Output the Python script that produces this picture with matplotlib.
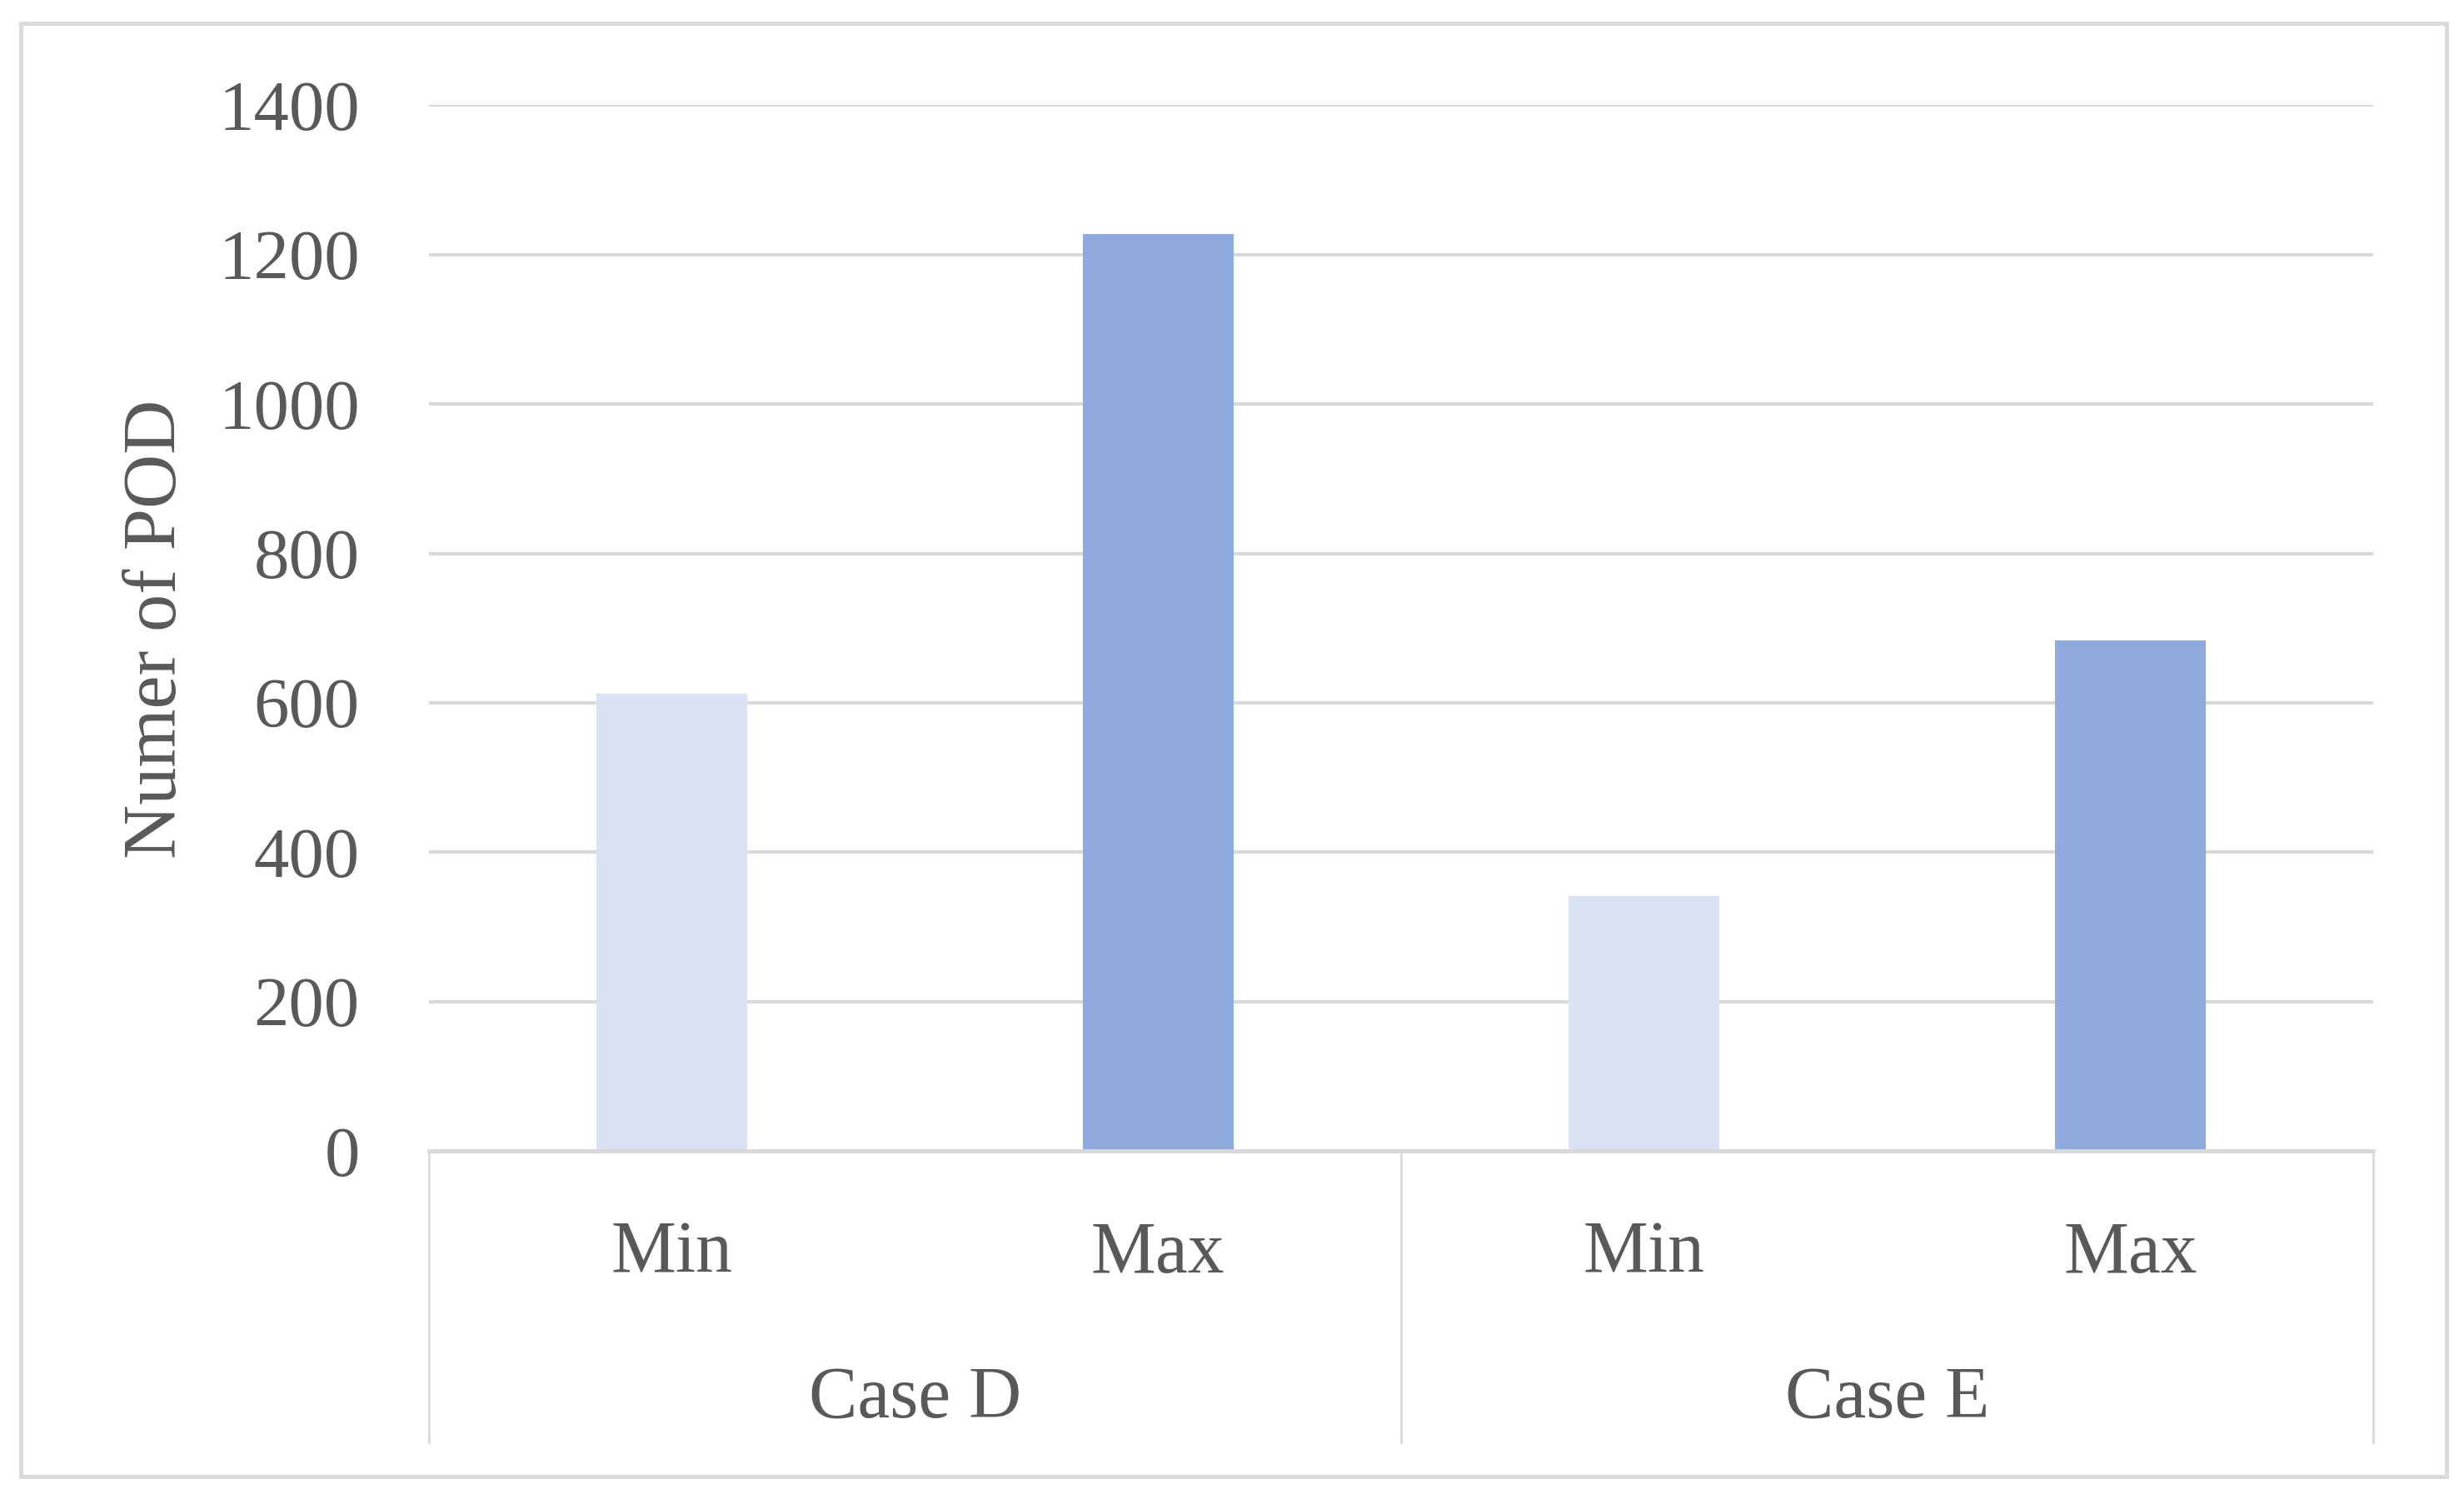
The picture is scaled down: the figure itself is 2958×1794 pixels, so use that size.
import matplotlib
matplotlib.use("Agg")
import matplotlib.pyplot as plt
from matplotlib.patches import Rectangle
from matplotlib.lines import Line2D
import matplotlib.transforms as mtransforms

# Data
groups = ["Case D", "Case E"]
sub_labels = ["Min", "Max", "Min", "Max"]
values = [612, 1228, 341, 683]
bar_colors = ["#DAE3F3", "#8FAADC", "#DAE3F3", "#8FAADC"]
y_ticks = [0, 200, 400, 600, 800, 1000, 1200, 1400]
y_label = "Numer of POD"

W, H = 2958, 1794
DPI = 100
fig = plt.figure(figsize=(W / DPI, H / DPI), dpi=DPI)
plt.rcParams['font.family'] = ['Liberation Serif', 'DejaVu Serif']
text_color = "#595959"
grid_color = "#D9D9D9"

left, right = 515 / W, 2849 / W
bottom, top = 1 - 1382 / H, 1 - 126.5 / H
ax = fig.add_axes([left, bottom, right - left, top - bottom])

x = list(range(len(values)))
ax.bar(x, values, width=0.31, color=bar_colors, zorder=3)
ax.set_xlim(-0.5, len(values) - 0.5)
ax.set_ylim(0, 1400)
ax.set_yticks(y_ticks)
ax.set_yticklabels([str(v) for v in y_ticks])
ax.tick_params(axis='y', length=0, pad=60, labelsize=61, labelcolor=text_color)
ax.set_xticks([])
ax.yaxis.grid(True, color=grid_color, linewidth=3.0, zorder=0)
ax.set_axisbelow(True)
for s in ["left", "right", "top"]:
    ax.spines[s].set_visible(False)
ax.spines["bottom"].set_color(grid_color)
ax.spines["bottom"].set_linewidth(3.5)
ax.spines["bottom"].set_zorder(4)

# y label
fig.text(189 / W, 1 - 755 / H, y_label, rotation=90, ha='center', va='center',
         fontsize=65, color=text_color)

# Category labels (two levels)
trans = mtransforms.blended_transform_factory(ax.transData, fig.transFigure)
for i, lab in enumerate(sub_labels):
    ax.text(i, 1 - 1506 / H, lab, transform=trans, ha='center', va='center',
            fontsize=63, color=text_color, clip_on=False)
for g, name in enumerate(groups):
    ax.text(g * 2 + 0.5, 1 - 1680 / H, name, transform=trans, ha='center', va='center',
            fontsize=63, color=text_color, clip_on=False)

# Separators between groups
for xs in [-0.5, 1.5, 3.5]:
    ax.add_line(Line2D([xs, xs], [1 - 1382 / H, 1 - 1732 / H], transform=trans,
                       color=grid_color, linewidth=2.0, clip_on=False))

# Outer border
fig.patches.append(Rectangle((24.5 / W, 1 - 1773 / H), (2937 - 24.5) / W, (1773 - 28) / H,
                             transform=fig.transFigure, fill=False,
                             edgecolor=grid_color, linewidth=3.5))

fig.savefig("out.png", dpi=DPI)
